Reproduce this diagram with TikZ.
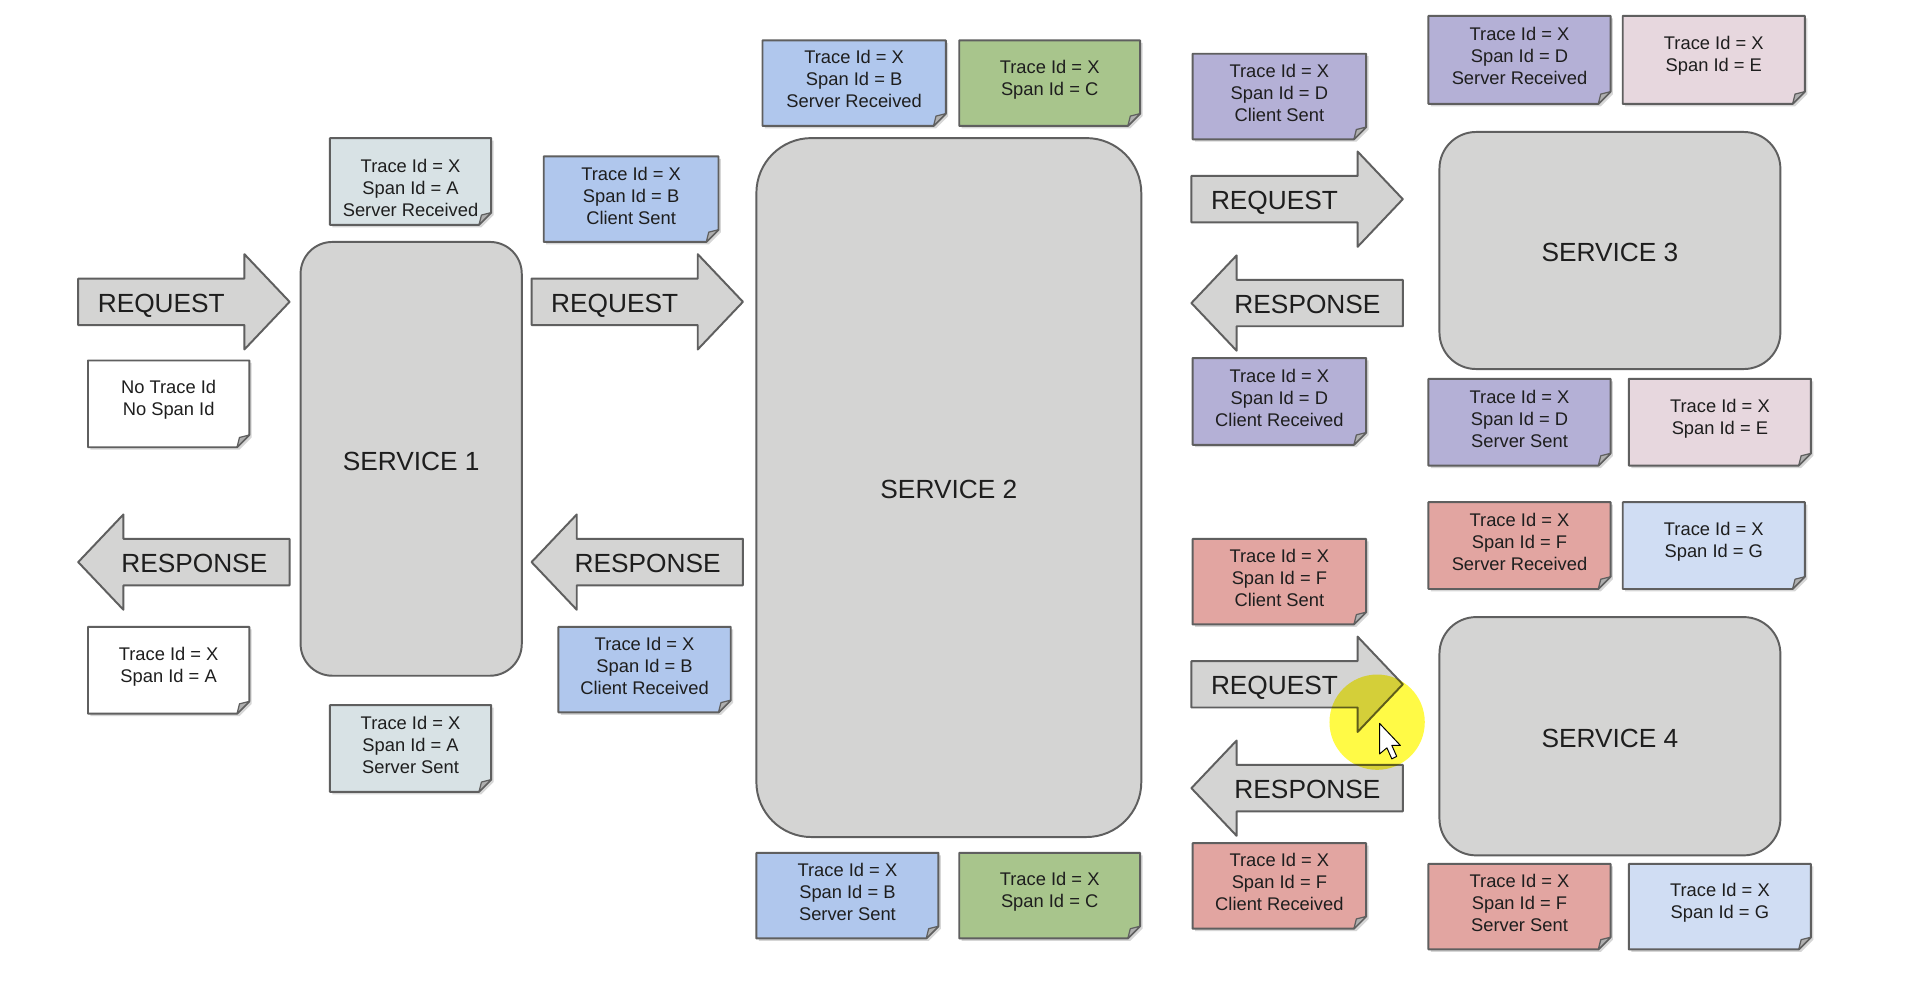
\documentclass[tikz,border=0pt]{standalone}
\usepackage{fontspec}
\setmainfont{Liberation Sans}
\usetikzlibrary{calc}
\definecolor{lineg}{RGB}{95,95,95}
\definecolor{svcg}{RGB}{212,212,211}
\definecolor{textc}{RGB}{30,30,30}
\definecolor{foldc}{RGB}{175,175,175}
\definecolor{colA}{RGB}{216,226,229}
\definecolor{colB}{RGB}{176,199,237}
\definecolor{colC}{RGB}{168,197,140}
\definecolor{colD}{RGB}{180,176,214}
\definecolor{colE}{RGB}{231,215,222}
\definecolor{colF}{RGB}{226,165,161}
\definecolor{colG}{RGB}{208,221,243}
\definecolor{hilite}{RGB}{255,250,70}
\tikzset{
  outl/.style={draw=lineg, line width=1.6pt, line join=round},
  svc/.style={outl, fill=svcg, font=\fontsize{21.5}{24}\selectfont, inner sep=0pt, text=textc},
  arrowshape/.style={outl, fill=svcg},
  arrlabel/.style={font=\fontsize{21.5}{24}\selectfont, inner sep=0pt, text height=15.4pt, text depth=0pt, text=textc},
  notetext/.style={font=\fontsize{15}{18}\selectfont, align=center, inner sep=0pt, text=textc},
  noteshadow/.style={fill=black!16},
}
\newcommand\rarrow[4]{%
  \filldraw[arrowshape] (#2,#4-19) -- (#3-37,#4-19) -- (#3-37,#4-39) -- (#3,#4) -- (#3-37,#4+39) -- (#3-37,#4+19) -- (#2,#4+19) -- cycle;
  \node[arrlabel] (#1) at ({(#2+#3-37)/2},#4+1) {REQUEST};
}
\newcommand\larrow[4]{%
  \filldraw[arrowshape] (#3,#4-19) -- (#2+37,#4-19) -- (#2+37,#4-39) -- (#2,#4) -- (#2+37,#4+39) -- (#2+37,#4+19) -- (#3,#4+19) -- cycle;
  \node[arrlabel] (#1) at ({(#2+37+#3)/2-10},#4+1) {RESPONSE};
}
% [extra text shift]{name}{x1}{y1}{x2}{y2}{fill}{text}
\newcommand\mynote[8][0]{%
  \fill[noteshadow] (#3+2,#4+2) -- (#5+2,#4+2) -- (#5+2,#6-8) -- (#5-8,#6+2) -- (#3+2,#6+2) -- cycle;
  \filldraw[outl, fill=#7] (#3,#4) -- (#5,#4) -- (#5,#6-10) -- (#5-10,#6) -- (#3,#6) -- cycle;
  \filldraw[outl, line width=1pt, fill=foldc] (#5,#6-10) -- (#5-10,#6) -- (#5-8,#6-8) -- cycle;
  \node[notetext] (#2) at ({(#3+#5)/2},{(#4+#6)/2-3+#1}) {#8};
}
\begin{document}
\begin{tikzpicture}[x=1pt, y=-1pt]
\useasboundingbox[fill=white] (0,0) rectangle (1568,809);

% services
\node[svc, minimum width=181pt, minimum height=355pt, rounded corners=26pt] (s1) at (336.5,375.5) {};
\node[svc, minimum width=315pt, minimum height=572pt, rounded corners=45pt] (s2) at (776.5,399) {};
\node[svc, minimum width=279pt, minimum height=194pt, rounded corners=30pt] (s3) at (1317.5,205) {};
\node[svc, minimum width=279pt, minimum height=195pt, rounded corners=30pt] (s4) at (1317.5,602.5) {};
\node[arrlabel] (s1t) at ($(s1.center)+(0,1.5)$) {SERVICE 1};
\node[arrlabel] (s2t) at ($(s2.center)+(0,1.5)$) {SERVICE 2};
\node[arrlabel] (s3t) at ($(s3.center)+(0,1.5)$) {SERVICE 3};
\node[arrlabel] (s4t) at ($(s4.center)+(0,1.5)$) {SERVICE 4};

% arrows
\rarrow{req1}{64}{237}{247}
\rarrow{req2}{435}{608}{247}
\larrow{res1}{64}{237}{460}
\larrow{res2}{435}{608}{460}
\rarrow{req3}{975}{1148}{163}
\larrow{res3}{975}{1148}{248}
\rarrow{req4}{975}{1148}{560}
\larrow{res4}{975}{1148}{645}

% notes
\mynote[8]{aSR}{270}{113}{402}{184}{colA}{Trace Id = X\\Span Id = A\\Server Received}
\mynote{none}{72}{295}{204}{366}{white}{No Trace Id\\No Span Id}
\mynote{aW}{72}{513}{204}{584}{white}{Trace Id = X\\Span Id = A}
\mynote{aSS}{270}{577}{402}{648}{colA}{Trace Id = X\\Span Id = A\\Server Sent}
\mynote{bCS}{445}{128}{588}{198}{colB}{Trace Id = X\\Span Id = B\\Client Sent}
\mynote{bCR}{457}{513}{598}{583}{colB}{Trace Id = X\\Span Id = B\\Client Received}
\mynote{bSR}{624}{33}{774}{103}{colB}{Trace Id = X\\Span Id = B\\Server Received}
\mynote{cT}{785}{33}{933}{103}{colC}{Trace Id = X\\Span Id = C}
\mynote{bSS}{619}{698}{768}{768}{colB}{Trace Id = X\\Span Id = B\\Server Sent}
\mynote{cB}{785}{698}{933}{768}{colC}{Trace Id = X\\Span Id = C}
\mynote{dCS}{976}{44}{1118}{114}{colD}{Trace Id = X\\Span Id = D\\Client Sent}
\mynote{dSR}{1169}{13}{1318}{85}{colD}{Trace Id = X\\Span Id = D\\Server Received}
\mynote{eT}{1328}{13}{1477}{85}{colE}{Trace Id = X\\Span Id = E}
\mynote{dCR}{976}{293}{1118}{364}{colD}{Trace Id = X\\Span Id = D\\Client Received}
\mynote{dSS}{1169}{310}{1318}{381}{colD}{Trace Id = X\\Span Id = D\\Server Sent}
\mynote{eB}{1333}{310}{1482}{381}{colE}{Trace Id = X\\Span Id = E}
\mynote{fSR}{1169}{411}{1318}{482}{colF}{Trace Id = X\\Span Id = F\\Server Received}
\mynote{gT}{1328}{411}{1477}{482}{colG}{Trace Id = X\\Span Id = G}
\mynote{fCS}{976}{441}{1118}{511}{colF}{Trace Id = X\\Span Id = F\\Client Sent}
\mynote{fCR}{976}{690}{1118}{760}{colF}{Trace Id = X\\Span Id = F\\Client Received}
\mynote{fSS}{1169}{707}{1318}{777}{colF}{Trace Id = X\\Span Id = F\\Server Sent}
\mynote{gB}{1333}{707}{1482}{777}{colG}{Trace Id = X\\Span Id = G}

% cursor highlight
\fill[hilite, blend mode=multiply] (1127,591) circle (39);
\filldraw[fill=white, draw=black, line width=0.8pt, line join=round, shift={(1129,592)}]
  (0,0) -- (0,25) -- (6,20) -- (10,29) -- (14,27) -- (10,18) -- (17,18) -- cycle;
\end{tikzpicture}
\end{document}
